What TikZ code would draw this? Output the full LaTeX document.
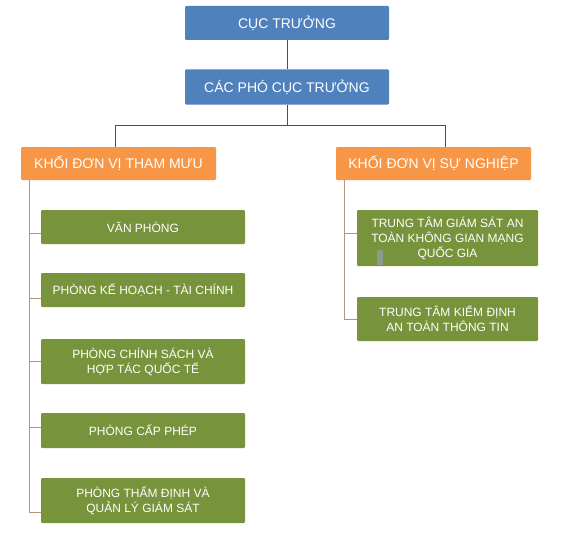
\documentclass[tikz,border=0pt]{standalone}
\usepackage{fontspec}
\setmainfont{Liberation Sans}
\definecolor{cblue}{HTML}{4F81BD}
\definecolor{corange}{HTML}{F79646}
\definecolor{cgreen}{HTML}{77933C}
\definecolor{clinetop}{HTML}{3E5068}
\definecolor{clinetree}{HTML}{B8937A}
\definecolor{cmark}{HTML}{8A9A8C}
\begin{document}
\begin{tikzpicture}[x=1pt,y=-1pt,
  boxbase/.style={rectangle, rounded corners=1.2pt, inner sep=0pt, text=white, align=center},
  bluebox/.style={boxbase, fill=cblue, minimum width=204pt, minimum height=34pt, font=\fontsize{14}{17}\selectfont},
  orangebox/.style={boxbase, fill=corange, minimum width=195pt, minimum height=33pt, font=\fontsize{14}{17}\selectfont},
  greenbox/.style={boxbase, fill=cgreen, font=\fontsize{12}{15}\selectfont},
  topline/.style={draw=clinetop, line width=0.9pt},
  treeline/.style={draw=clinetree, line width=0.9pt}]
\useasboundingbox (0,0) rectangle (570,535);
\fill[white] (0,0) rectangle (570,535);

\node[bluebox] (ct) at (287,23) {CỤC TRƯỞNG};
\node[bluebox, minimum height=35pt] (pct) at (287,87) {CÁC PHÓ CỤC TRƯỞNG};

\node[orangebox] (lo) at (118.5,163.5) {KHỐI ĐƠN VỊ THAM MƯU};
\node[orangebox] (ro) at (433.5,163.5) {KHỐI ĐƠN VỊ SỰ NGHIỆP};

\node[greenbox, minimum width=204pt, minimum height=34pt] (g1) at (143,227) {VĂN PHÒNG};
\node[greenbox, minimum width=204pt, minimum height=34pt] (g2) at (143,290) {PHÒNG KẾ HOẠCH - TÀI CHÍNH};
\node[greenbox, minimum width=204pt, minimum height=45pt] (g3) at (143,361.5) {PHÒNG CHÍNH SÁCH VÀ\\HỢP TÁC QUỐC TẾ};
\node[greenbox, minimum width=204pt, minimum height=35pt] (g4) at (143,430.5) {PHÒNG CẤP PHÉP};
\node[greenbox, minimum width=204pt, minimum height=45pt] (g5) at (143,500.5) {PHÒNG THẨM ĐỊNH VÀ\\QUẢN LÝ GIÁM SÁT};

\node[greenbox, minimum width=181pt, minimum height=56pt] (r1) at (447.5,238) {TRUNG TÂM GIÁM SÁT AN\\TOÀN KHÔNG GIAN MẠNG\\QUỐC GIA};
\node[greenbox, minimum width=181pt, minimum height=44pt] (r2) at (447.5,319) {TRUNG TÂM KIỂM ĐỊNH\\AN TOÀN THÔNG TIN};

\fill[cmark] (377,250) rectangle (383,265);

% top connectors
\coordinate (bus) at (287,125);
\coordinate (la) at (115,147);
\coordinate (ra) at (445,147);
\draw[topline] (ct.south) -- (pct.north);
\draw[topline] (pct.south) -- (bus) -| (la);
\draw[topline] (bus) -| (ra);

% left tree
\coordinate (lt) at (29,180);
\draw[treeline] (lt) |- ([yshift=-6pt]g1.west);
\draw[treeline] (lt) |- ([yshift=-8pt]g2.west);
\draw[treeline] (lt) |- (g3.west);
\draw[treeline] (lt) |- ([yshift=3.5pt]g4.west);
\draw[treeline] (lt) |- ([yshift=-12pt]g5.west);

% right tree
\coordinate (rt) at (344,180);
\draw[treeline] (rt) |- ([yshift=5pt]r1.west);
\draw[treeline] (rt) |- (r2.west);
\end{tikzpicture}
\end{document}
